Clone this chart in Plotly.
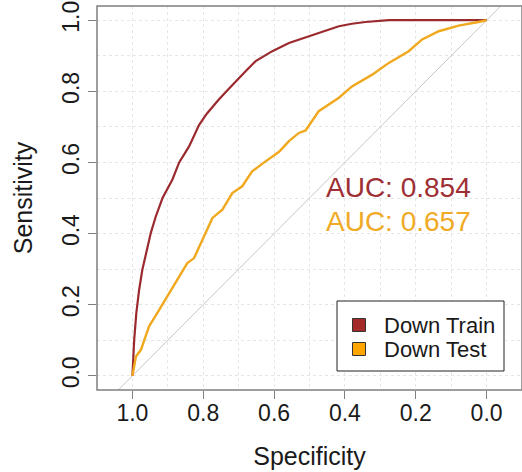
import plotly.graph_objects as go

# ---- data ----
train_spec = [1.0, 0.998, 0.995, 0.989, 0.981, 0.972, 0.962, 0.948, 0.934, 0.915, 0.887,
              0.868, 0.840, 0.812, 0.790, 0.756, 0.725, 0.699, 0.675, 0.652, 0.605, 0.558,
              0.530, 0.474, 0.417, 0.380, 0.342, 0.300, 0.276, 0.200, 0.100, 0.0]
train_sens = [0.0, 0.04, 0.101, 0.176, 0.242, 0.298, 0.345, 0.402, 0.448, 0.500, 0.552,
              0.600, 0.645, 0.705, 0.737, 0.777, 0.810, 0.838, 0.862, 0.885, 0.913, 0.936,
              0.946, 0.964, 0.983, 0.990, 0.995, 0.998, 1.0, 1.0, 1.0, 1.0]

test_spec = [1.0, 0.990, 0.976, 0.953, 0.930, 0.901, 0.873, 0.845, 0.826, 0.798, 0.774,
             0.746, 0.718, 0.690, 0.662, 0.624, 0.586, 0.558, 0.530, 0.511, 0.474, 0.417,
             0.380, 0.323, 0.276, 0.220, 0.182, 0.135, 0.079, 0.023, 0.0]
test_sens = [0.0, 0.054, 0.073, 0.139, 0.176, 0.223, 0.270, 0.317, 0.331, 0.392, 0.444,
             0.467, 0.514, 0.533, 0.575, 0.603, 0.630, 0.660, 0.683, 0.690, 0.744, 0.782,
             0.814, 0.847, 0.880, 0.913, 0.946, 0.969, 0.985, 0.995, 1.0]

series_names = ["Down Train", "Down Test"]
auc_values = [0.854, 0.657]
tick_vals = [0.0, 0.2, 0.4, 0.6, 0.8, 1.0]
tick_text = ["0.0", "0.2", "0.4", "0.6", "0.8", "1.0"]

line_colors = ["#9B2A2F", "#F0A81E"]
legend_colors = ["#A52A2A", "#FFA500"]
text_colors = ["#9E2F35", "#F0AA26"]
FONT = "Liberation Sans, Arial, sans-serif"

fig = go.Figure()

# chance diagonal
fig.add_trace(go.Scatter(x=[1.2, -0.2], y=[-0.2, 1.2], mode="lines",
                         line=dict(color="#C8C8C8", width=1), showlegend=False,
                         hoverinfo="skip"))

fig.add_trace(go.Scatter(x=train_spec, y=train_sens, mode="lines", name=series_names[0],
                         line=dict(color=line_colors[0], width=2.2), showlegend=False))
fig.add_trace(go.Scatter(x=test_spec, y=test_sens, mode="lines", name=series_names[1],
                         line=dict(color=line_colors[1], width=2.4), showlegend=False))

# AUC labels
for i, (auc, col) in enumerate(zip(auc_values, text_colors)):
    fig.add_annotation(x=0.458, y=[0.53, 0.435][i], xref="x", yref="y",
                       text=f"AUC: {auc:.3f}", showarrow=False, xanchor="left",
                       yanchor="middle", font=dict(family=FONT, size=28, color=col))

# legend (box, squares, labels) in paper coordinates
PW, PH = 425.0, 384.0
fig.add_shape(type="rect", xref="paper", yref="paper",
              x0=240 / PW, x1=407 / PW, y0=19 / PH, y1=89 / PH,
              line=dict(color="#222222", width=1), fillcolor="white", layer="above")
for i, (name, col) in enumerate(zip(series_names, legend_colors)):
    cy = [65, 41][i] / PH
    cx = 262 / PW
    fig.add_shape(type="rect", xref="paper", yref="paper",
                  x0=cx - 6.5 / PW, x1=cx + 6.5 / PW, y0=cy - 6.5 / PH, y1=cy + 6.5 / PH,
                  line=dict(color="#333333", width=1), fillcolor=col, layer="above")
    fig.add_annotation(x=285 / PW, y=cy, xref="paper", yref="paper", text=name,
                       showarrow=False, xanchor="left", yanchor="middle",
                       font=dict(family=FONT, size=22, color="#1A1A1A"))

# frame
fig.add_shape(type="rect", xref="paper", yref="paper", x0=0, x1=1, y0=0, y1=1,
              line=dict(color="#7F7F7F", width=1.5), layer="above")

axis_common = dict(
    tickvals=tick_vals, ticktext=tick_text, ticks="outside", ticklen=8,
    tickcolor="#7F7F7F", tickwidth=1.2, showline=False, zeroline=False,
    showgrid=True, gridcolor="#E6E6E6", griddash="dot", gridwidth=1,
    minor=dict(dtick=0.1, tick0=0, showgrid=True, gridcolor="#E6E6E6",
               griddash="dot", gridwidth=1, ticks=""),
    tickfont=dict(family=FONT, size=23, color="#1A1A1A"),
)

fig.update_layout(
    width=522, height=472,
    margin=dict(l=97, r=0, t=6, b=82),
    paper_bgcolor="white", plot_bgcolor="white",
    font=dict(family=FONT, color="#1A1A1A"),
    xaxis=dict(range=[1.1, -0.1], ticklabelstandoff=-6,
               title=dict(text="Specificity", standoff=22,
                          font=dict(family=FONT, size=25, color="#1A1A1A")),
               **axis_common),
    yaxis=dict(range=[-0.04, 1.04], tickangle=-90,
               title=dict(text="Sensitivity", standoff=18,
                          font=dict(family=FONT, size=25, color="#1A1A1A")),
               **axis_common),
    showlegend=False,
)

fig.write_html("out.html")
